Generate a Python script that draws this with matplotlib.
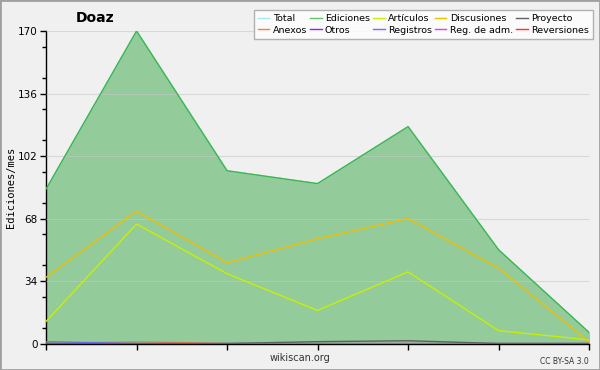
import numpy as np
import matplotlib
matplotlib.use("Agg")
import matplotlib.pyplot as plt

# monthly edits, 7 months
months = [0, 1, 2, 3, 4, 5, 6]
total = [84, 170, 94, 87, 118, 51, 6]
ediciones = [84, 170, 94, 87, 118, 51, 6]
articulos = [12, 65, 38, 18, 39, 7, 2]
discusiones = [36, 72, 44, 57, 68, 41, 1]
proyecto = [0, 0, 0, 1, 1.5, 0, 0]
anexos = [0, 1, 0, 0, 0, 0, 0]
otros = [0, 0, 0, 0, 0, 0, 0]
registros = [1, 0, 0, 0, 0, 0, 0]
reg_adm = [0, 0, 0, 0, 0, 0, 0]
reversiones = [0, 0, 0, 0, 0, 0, 0]

y_ticks = [0, 34, 68, 102, 136, 170]
y_minor = [8.5, 25.5, 42.5, 59.5, 76.5, 93.5, 110.5, 127.5, 144.5, 161.5]

bg = "#f0f0f0"
fig = plt.figure(figsize=(6, 3.7), dpi=100, facecolor=bg)
ax = fig.add_axes([0.0767, 0.0716, 0.905, 0.8444], facecolor=bg)

ax.fill_between(months, ediciones, 0, color="#93cb9a", zorder=1)
ax.plot(months, total, color="#a8e8e8", lw=1, zorder=2)
ax.plot(months, ediciones, color="#3cb44b", lw=1, zorder=3)

series = [
    ("Total", None, "#a8e8e8"),
    ("Anexos", anexos, "#ff7f3f"),
    ("Ediciones", None, "#66c266"),
    ("Otros", otros, "#8a2be2"),
    ("Artículos", articulos, "#c8f000"),
    ("Registros", registros, "#6f6fff"),
    ("Discusiones", discusiones, "#f0c000"),
    ("Reg. de adm.", reg_adm, "#e040f0"),
    ("Proyecto", proyecto, "#606060"),
    ("Reversiones", reversiones, "#ff3030"),
]
handles = []
for name, vals, col in series:
    if vals is not None and name not in ("Otros", "Reg. de adm.", "Reversiones"):
        ax.plot(months, vals, color=col, lw=1, zorder=4)
    h, = ax.plot([], [], color=col, lw=1, label=name)
    handles.append(h)

ax.set_xlim(0, 6)
ax.set_ylim(0, 170)
ax.set_yticks(y_ticks)
ax.set_yticks(y_minor, minor=True)
ax.set_xticks(months)
ax.set_xticklabels([])
ax.yaxis.grid(True, color="#c8c8c8", lw=0.8, alpha=0.6, zorder=5)
ax.set_axisbelow(False)
for s in ["top", "right"]:
    ax.spines[s].set_visible(False)
ax.spines["left"].set_linewidth(1)
ax.spines["bottom"].set_linewidth(1)
ax.tick_params(axis="y", labelsize=7.5, length=4, width=1, pad=2)
ax.tick_params(axis="y", which="minor", length=3, width=1)
ax.tick_params(axis="x", length=4, width=1)

fig.text(11 / 600, 1 - 187 / 370, "Ediciones/mes", family="DejaVu Sans Mono", fontsize=7.5,
         rotation=90, ha="center", va="center")
fig.text(95 / 600, 1 - 18 / 370, "Doaz", fontsize=10, fontweight="bold", ha="center", va="center")
fig.text(300 / 600, 1 - 358 / 370, "wikiscan.org", fontsize=7, ha="center", va="center", color="#333333")
fig.text(589 / 600, 1 - 361 / 370, "CC BY-SA 3.0", fontsize=5.5, ha="right", va="center", color="#333333")

leg = fig.legend(handles=handles, ncol=5, loc="upper right", bbox_to_anchor=(593 / 600, 1 - 10 / 370),
                 fontsize=6.8, frameon=True, fancybox=False, handlelength=1.2, handletextpad=0.35,
                 columnspacing=0.35, labelspacing=0.25, borderpad=0.45, borderaxespad=0)
leg.get_frame().set_edgecolor("#a0a0a0")
leg.get_frame().set_facecolor("white")
leg.get_frame().set_linewidth(1)

fig.add_artist(plt.Rectangle((0, 0), 1, 1, transform=fig.transFigure, fill=False,
                             edgecolor="#a0a0a0", lw=2))
fig.savefig("out.png", dpi=100, facecolor=bg)
